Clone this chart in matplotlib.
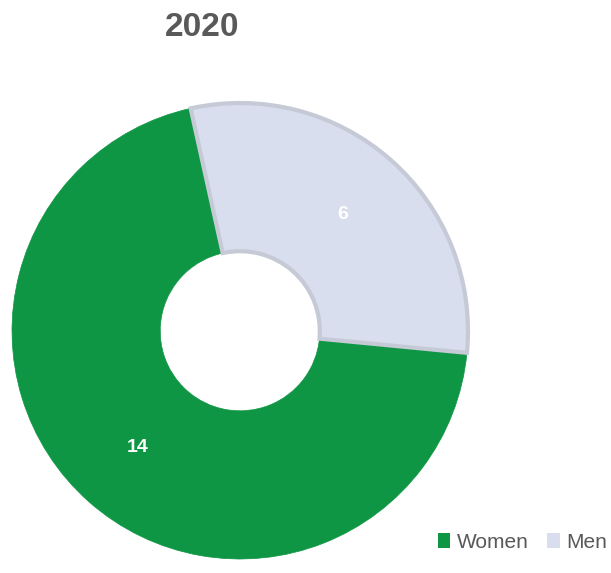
import matplotlib.pyplot as plt
from matplotlib.patches import Patch

labels = ['Women', 'Men']
values = [14, 6]
colors = ['#0e9645', '#d8deee']
year = '2020'

plt.rcParams['font.family'] = ['Liberation Sans Narrow', 'Liberation Sans', 'DejaVu Sans']

W, H = 611, 573
fig = plt.figure(figsize=(W / 100, H / 100), dpi=100)
ax = fig.add_axes([0, 0, 1, 1])

wedges, texts, autotexts = ax.pie(
    values, colors=colors, startangle=102.5, counterclock=True,
    radius=1, wedgeprops=dict(width=0.65),
    autopct=lambda p: '%d' % round(p * sum(values) / 100),
    pctdistance=0.68,
    textprops=dict(color='white', fontsize=14, fontweight='bold'))
wedges[0].set_edgecolor('#0e9645')
wedges[0].set_linewidth(0.5)
wedges[1].set_edgecolor('#c5cad6')
wedges[1].set_linewidth(3)

# pie centre / radius in pixels
cx, cy, r = 240, 331, 228
ax.set_xlim(-cx / r, (W - cx) / r)
ax.set_ylim(-(H - cy) / r, cy / r)
ax.set_aspect('auto')
ax.axis('off')

fig.text(202 / W, 1 - 27 / H, year, ha='center', va='center',
         fontsize=24, fontweight='bold', color='#595959')

handles = [Patch(facecolor=c, edgecolor='none') for c in colors]
fig.legend(handles, labels, loc='center right', bbox_to_anchor=(1.0, 1 - 542 / H),
           ncol=2, frameon=False, fontsize=15, handlelength=0.6, handleheight=0.7,
           handletextpad=0.3, columnspacing=0.9, labelcolor='#595959',
           borderpad=0, borderaxespad=0.2)

fig.savefig('out.png', dpi=100)
